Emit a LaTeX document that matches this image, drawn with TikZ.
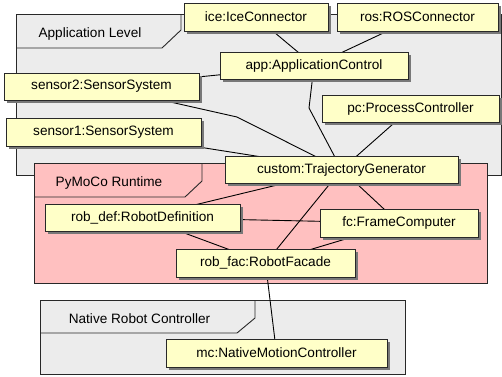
\documentclass[tikz,border=0pt]{standalone}
\usepackage{fontspec}
\setmainfont{Liberation Sans}
\usetikzlibrary{shadows}
\pgfdeclarelayer{pkg}
\pgfdeclarelayer{edges}
\pgfsetlayers{pkg,edges,main}
\definecolor{pkggray}{RGB}{236,236,236}
\definecolor{pkgpink}{RGB}{255,192,192}
\definecolor{objyellow}{RGB}{255,255,200}
\definecolor{linec}{RGB}{40,40,40}
\definecolor{shadowc}{RGB}{120,120,120}
\tikzset{
  obj/.style={draw=linec, line width=0.9pt, fill=objyellow, rectangle, inner sep=0pt,
    font=\fontsize{13.6}{16}\selectfont,
    drop shadow={shadow xshift=3pt, shadow yshift=-3pt, fill=shadowc, opacity=1}},
  pkgbox/.style={draw=linec, line width=0.9pt},
  pkglabel/.style={font=\fontsize{13.6}{16}\selectfont, inner sep=0pt},
  conn/.style={draw=black, line width=0.9pt}
}
\begin{document}
\begin{tikzpicture}[x=1pt,y=-1pt]
\useasboundingbox (0,0) rectangle (502,376);
% nodes
\node[obj, minimum width=144pt, minimum height=28pt] (ice) at (256,17) {ice:IceConnector};
\node[obj, minimum width=161pt, minimum height=28pt] (ros) at (417.5,17) {ros:ROSConnector};
\node[obj, minimum width=188pt, minimum height=27pt] (app) at (314,65.5) {app:ApplicationControl};
\node[obj, minimum width=195pt, minimum height=27pt] (sensor2) at (101.5,86.5) {sensor2:SensorSystem};
\node[obj, minimum width=195pt, minimum height=28pt] (sensor1) at (103.5,132) {sensor1:SensorSystem};
\node[obj, minimum width=177pt, minimum height=27pt] (pc) at (410.5,108.5) {pc:ProcessController};
\node[obj, minimum width=233pt, minimum height=27pt] (custom) at (341.5,169.5) {custom:TrajectoryGenerator};
\node[obj, minimum width=195pt, minimum height=27pt] (robdef) at (142.5,217.5) {rob\_def:RobotDefinition};
\node[obj, minimum width=158pt, minimum height=28pt] (fc) at (399,223) {fc:FrameComputer};
\node[obj, minimum width=179pt, minimum height=28pt] (robfac) at (265.5,263) {rob\_fac:RobotFacade};
\node[obj, minimum width=221pt, minimum height=28pt] (mc) at (276.5,353) {mc:NativeMotionController};
% packages
\begin{pgfonlayer}{pkg}
\draw[pkgbox, fill=pkggray] (16,14) rectangle (501.5,175);
\draw[pkgbox] (16,48) -- (162,48) -- (181,30) -- (181,14);
\node[pkglabel] (applbl) at (90,34) {Application Level};
\draw[pkgbox, fill=pkgpink] (34,163) rectangle (487,283);
\draw[pkgbox] (34,197) -- (185,197) -- (202,181) -- (202,163);
\node[pkglabel] (pylbl) at (109,183) {PyMoCo Runtime};
\draw[pkgbox, fill=pkggray] (40,300) rectangle (405,374);
\draw[pkgbox] (40,333) -- (237,333) -- (255,318) -- (255,300);
\node[pkglabel] (natlbl) at (139.5,319) {Native Robot Controller};
\end{pgfonlayer}
% connectors
\begin{pgfonlayer}{edges}
\coordinate (b1) at (237,117);
\coordinate (b2) at (309,108);
\draw[conn] (ice.center) -- (app.center);
\draw[conn] (ros.center) -- (app.center);
\draw[conn] (sensor2.center) -- (app.center);
\draw[conn] (sensor2.center) -- (b1) -- (custom.center);
\draw[conn] (app.center) -- (b2) -- (custom.center);
\draw[conn] (pc.center) -- (custom.center);
\draw[conn] (sensor1.center) -- (custom.center);
\draw[conn] (custom.center) -- (robdef.center);
\draw[conn] (robdef.center) -- (fc.center);
\draw[conn] (robdef.center) -- (robfac.center);
\draw[conn] (custom.center) -- (robfac.center);
\draw[conn] (custom.center) -- (fc.center);
\draw[conn] (fc.center) -- (robfac.center);
\draw[conn] (robfac.center) -- (mc.center);
\end{pgfonlayer}
\end{tikzpicture}
\end{document}
